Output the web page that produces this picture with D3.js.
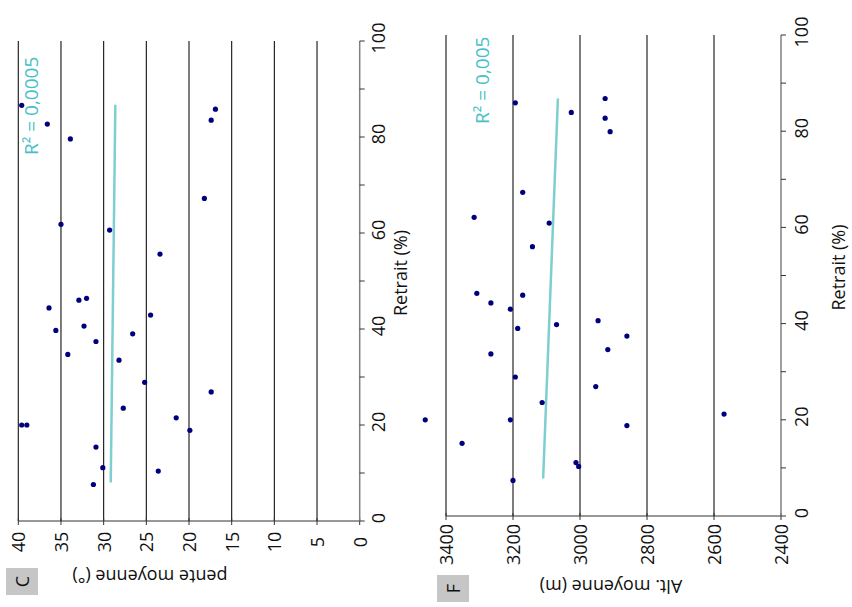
<!DOCTYPE html>
<html><head><meta charset="utf-8">
<script src="https://cdn.jsdelivr.net/npm/d3@7"></script>
<style>html,body{margin:0;padding:0;background:#fff}svg{display:block}</style>
</head><body>
<script>
// ---- data ----
const retraitC = [86.6,82.7,79.6,85.8,83.5,67.2,61.8,60.6,55.6,46.0,46.4,44.4,42.9,39.7,40.6,39.0,37.4,34.7,33.5,28.9,26.9,23.5,21.5,18.9,20.0,20.0,15.4,11.1,10.4,7.6];
const penteC   = [39.6,36.6,33.9,16.9,17.4,18.2,35.0,29.3,23.4,32.9,32.0,36.4,24.5,35.6,32.3,26.6,30.9,34.2,28.2,25.2,17.4,27.7,21.5,19.9,39.6,39.0,30.9,30.1,23.6,31.2];
const retraitF = [85.9,83.9,86.8,82.7,79.9,67.3,62.1,60.9,56.0,46.3,45.9,44.3,43.0,40.6,39.8,39.0,37.4,34.6,33.7,28.9,26.9,23.6,20.0,20.0,21.2,18.8,15.1,11.1,10.3,7.4];
const altF     = [3193,3026,2925,2925,2910,3171,3316,3092,3142,3308,3171,3266,3208,2946,3070,3186,2860,2917,3266,3193,2953,3113,3462,3208,2570,2860,3352,3012,3004,3200];
const trendC = [{r:8.0,v:29.17},{r:86.7,v:28.63}];
const trendF = [{r:7.8,v:3110},{r:86.8,v:3066}];
const retraitTicks = [0,10,20,30,40,50,60,70,80,90,100];
const retraitLabels = [0,20,40,60,80,100];
const penteTicks = [0,5,10,15,20,25,30,35,40];
const altTicks = [2400,2600,2800,3000,3200,3400];
const r2C = "R² = 0,0005", r2F = "R² = 0,005";

const W = 852, H = 607;
const FONT = "'Open Sans', sans-serif";
const FS = 18;
const svg = d3.select("body").append("svg").attr("width", W).attr("height", H);
// whole figure is rotated 90° counter-clockwise; draw in an unrotated 607x852 frame
const g = svg.append("g").attr("transform", `translate(0,${H}) rotate(-90)`);

function panel(opt) {
  const {x, y, rs, vs, trend, vTicks, vFmt, r2, r2x, r2y, title, titleX, titleY, letter, box, vLabX, rLabY, rTitleY} = opt;
  const p = g.append("g");
  p.selectAll("line.grid").data(vTicks.filter(d => d !== y.domain()[0])).join("line")
    .attr("x1", x(0)).attr("x2", x(100)).attr("y1", d => y(d)).attr("y2", d => y(d))
    .attr("stroke", "#111").attr("stroke-width", 1.1);
  p.append("line").attr("x1", x(0)).attr("x2", x(0)).attr("y1", y(y.domain()[1])).attr("y2", y(y.domain()[0]))
    .attr("stroke", "#333").attr("stroke-width", 1.1);
  p.selectAll("line.vt").data(vTicks).join("line")
    .attr("x1", x(0) - 4).attr("x2", x(0) + 3).attr("y1", d => y(d)).attr("y2", d => y(d))
    .attr("stroke", "#333");
  p.selectAll("text.vl").data(vTicks).join("text")
    .attr("x", vLabX).attr("y", d => y(d)).attr("text-anchor", "middle").attr("dominant-baseline", "central")
    .attr("font-family", FONT).attr("font-size", FS).attr("fill", "#111").text(vFmt);
  p.append("line").attr("x1", x(0)).attr("x2", x(100)).attr("y1", y(y.domain()[0])).attr("y2", y(y.domain()[0]))
    .attr("stroke", "#808080").attr("stroke-width", 1.5);
  p.selectAll("line.rt").data(retraitTicks).join("line")
    .attr("x1", d => x(d)).attr("x2", d => x(d)).attr("y1", y(y.domain()[0])).attr("y2", y(y.domain()[0]) + 5)
    .attr("stroke", "#333");
  p.selectAll("text.rl").data(retraitLabels).join("text")
    .attr("x", d => x(d) + 3).attr("y", rLabY).attr("text-anchor", "middle").attr("dominant-baseline", "central")
    .attr("font-family", FONT).attr("font-size", FS).attr("fill", "#111").text(d => d);
  p.append("text").attr("x", x(50) + 8).attr("y", rTitleY).attr("text-anchor", "middle").attr("dominant-baseline", "central")
    .attr("font-family", FONT).attr("font-size", FS).attr("fill", "#111").text("Retrait (%)");
  p.append("line").attr("x1", x(trend[0].r)).attr("y1", y(trend[0].v)).attr("x2", x(trend[1].r)).attr("y2", y(trend[1].v))
    .attr("stroke", "#7ecfd0").attr("stroke-width", 2.5);
  p.selectAll("circle").data(rs).join("circle")
    .attr("cx", d => x(d)).attr("cy", (d, i) => y(vs[i])).attr("r", 2.6).attr("fill", "#00007f");
  p.append("text").attr("x", r2x).attr("y", r2y).attr("dominant-baseline", "central")
    .attr("font-family", FONT).attr("font-size", 19).attr("fill", "#48bfc7").text(r2);
  p.append("text").attr("transform", `translate(${titleX},${titleY}) rotate(-90)`).attr("text-anchor", "middle")
    .attr("dominant-baseline", "central").attr("font-family", FONT).attr("font-size", FS).attr("fill", "#111").text(title);
  p.append("rect").attr("x", box[0]).attr("y", box[1]).attr("width", box[2]).attr("height", box[3]).attr("fill", "#c6c6c6");
  p.append("text").attr("x", box[0] + box[2] / 2).attr("y", box[1] + box[3] / 2).attr("text-anchor", "middle")
    .attr("dominant-baseline", "central").attr("font-family", FONT).attr("font-size", FS).attr("fill", "#111").text(letter);
}

const xC = d3.scaleLinear().domain([0, 100]).range([86, 566]);
const yC = d3.scaleLinear().domain([0, 40]).range([359.7, 18.3]);
panel({x: xC, y: yC, rs: retraitC, vs: penteC, trend: trendC, vTicks: penteTicks, vFmt: d => d,
  r2: r2C, r2x: 452, r2y: 31, title: "pente moyenne (°)", titleX: 30, titleY: 150, letter: "C",
  box: [12, 6, 27, 32], vLabX: 65, rLabY: 378, rTitleY: 400});

const xF = d3.scaleLinear().domain([0, 100]).range([91, 572]);
const yF = d3.scaleLinear().domain([2400, 3400]).range([781, 446]);
panel({x: xF, y: yF, rs: retraitF, vs: altF, trend: trendF, vTicks: altTicks, vFmt: d => d,
  r2: r2F, r2x: 483, r2y: 482, title: "Alt. moyenne (m)", titleX: 20, titleY: 611, letter: "F",
  box: [5, 437, 27, 32], vLabX: 62.5, rLabY: 801, rTitleY: 838});
</script>
</body></html>
